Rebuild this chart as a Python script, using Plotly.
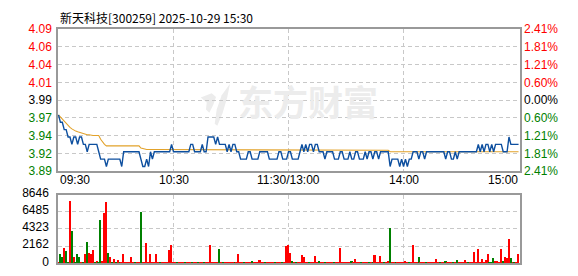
import plotly.graph_objects as go

# ---- data ----------------------------------------------------------------
title_text = "新天科技[300259] 2025-10-29 15:30"
prev_close = 3.99
pct_limit = 2.41
price_tick_labels = ["4.09", "4.06", "4.04", "4.01", "3.99", "3.97", "3.94", "3.92", "3.89"]
pct_tick_labels = ["2.41%", "1.81%", "1.21%", "0.60%", "0.00%", "0.60%", "1.21%", "1.81%", "2.41%"]
time_labels = ["09:30", "10:30", "11:30/13:00", "14:00", "15:00"]
time_label_minutes = [0, 60, 120, 180, 240]
vol_max = 8646
vol_tick_labels = ["8646", "6485", "4323", "2162", "0"]

price = [
    3.97, 3.96, 3.96, 3.95, 3.95, 3.94, 3.94, 3.93, 3.94, 3.94,
    3.93, 3.94, 3.94, 3.93, 3.93, 3.92, 3.93, 3.93, 3.93, 3.93,
    3.93, 3.92, 3.91, 3.91, 3.91, 3.90, 3.91, 3.91, 3.91, 3.91,
    3.91, 3.91, 3.91, 3.90, 3.92, 3.92, 3.92, 3.92, 3.92, 3.92,
    3.92, 3.92, 3.92, 3.91, 3.90, 3.90, 3.91, 3.90, 3.92, 3.91,
    3.92, 3.92, 3.92, 3.92, 3.92, 3.92, 3.92, 3.92, 3.92, 3.93,
    3.92, 3.92, 3.92, 3.92, 3.92, 3.92, 3.92, 3.92, 3.92, 3.93,
    3.93, 3.92, 3.92, 3.92, 3.92, 3.93, 3.92, 3.92, 3.94, 3.94,
    3.94, 3.94, 3.93, 3.94, 3.93, 3.93, 3.93, 3.93, 3.92, 3.93,
    3.92, 3.93, 3.93, 3.92, 3.92, 3.91, 3.91, 3.91, 3.91, 3.92,
    3.92, 3.91, 3.91, 3.91, 3.91, 3.92, 3.92, 3.92, 3.92, 3.92,
    3.91, 3.91, 3.91, 3.91, 3.91, 3.92, 3.92, 3.91, 3.91, 3.91,
    3.92, 3.92, 3.91, 3.91, 3.91, 3.91, 3.92, 3.93, 3.92, 3.93,
    3.92, 3.93, 3.93, 3.92, 3.93, 3.93, 3.92, 3.92, 3.92, 3.91,
    3.92, 3.92, 3.92, 3.92, 3.91, 3.91, 3.91, 3.92, 3.92, 3.91,
    3.91, 3.91, 3.92, 3.91, 3.91, 3.92, 3.92, 3.91, 3.91, 3.91,
    3.92, 3.91, 3.92, 3.92, 3.91, 3.92, 3.92, 3.91, 3.92, 3.92,
    3.92, 3.92, 3.92, 3.90, 3.91, 3.91, 3.91, 3.91, 3.90, 3.91,
    3.90, 3.91, 3.90, 3.91, 3.91, 3.92, 3.92, 3.92, 3.91, 3.92,
    3.92, 3.91, 3.92, 3.92, 3.92, 3.92, 3.92, 3.92, 3.92, 3.92,
    3.92, 3.92, 3.91, 3.92, 3.92, 3.91, 3.91, 3.92, 3.91, 3.92,
    3.92, 3.92, 3.92, 3.92, 3.92, 3.92, 3.92, 3.92, 3.92, 3.93,
    3.92, 3.93, 3.92, 3.93, 3.93, 3.92, 3.93, 3.92, 3.93, 3.93,
    3.93, 3.93, 3.92, 3.92, 3.92, 3.94, 3.93, 3.93, 3.93, 3.93,
    3.93,
]

avg_price = [
    3.970, 3.967, 3.964, 3.962, 3.958, 3.955, 3.953, 3.951, 3.949, 3.948,
    3.947, 3.946, 3.946, 3.945, 3.944, 3.943, 3.943, 3.942, 3.942, 3.942,
    3.942, 3.942, 3.937, 3.933, 3.930, 3.928, 3.928, 3.928, 3.928, 3.928,
    3.928, 3.928, 3.928, 3.928, 3.928, 3.928, 3.928, 3.928, 3.928, 3.928,
    3.928, 3.928, 3.928, 3.925, 3.924, 3.924, 3.923, 3.923, 3.923, 3.923,
    3.923, 3.923, 3.923, 3.923, 3.923, 3.923, 3.923, 3.923, 3.923, 3.923,
    3.923, 3.923, 3.923, 3.923, 3.923, 3.923, 3.923, 3.923, 3.923, 3.923,
    3.923, 3.923, 3.923, 3.923, 3.923, 3.923, 3.923, 3.923, 3.923, 3.923,
    3.923, 3.923, 3.923, 3.923, 3.923, 3.923, 3.923, 3.923, 3.923, 3.923,
    3.923, 3.923, 3.923, 3.923, 3.923, 3.923, 3.923, 3.923, 3.923, 3.923,
    3.923, 3.923, 3.923, 3.923, 3.923, 3.923, 3.923, 3.923, 3.923, 3.923,
    3.923, 3.923, 3.923, 3.923, 3.923, 3.923, 3.923, 3.923, 3.923, 3.923,
    3.923, 3.923, 3.923, 3.923, 3.923, 3.923, 3.923, 3.923, 3.923, 3.923,
    3.923, 3.923, 3.923, 3.923, 3.923, 3.923, 3.923, 3.923, 3.923, 3.923,
    3.922, 3.922, 3.922, 3.922, 3.922, 3.922, 3.922, 3.922, 3.922, 3.922,
    3.922, 3.922, 3.922, 3.922, 3.922, 3.922, 3.922, 3.922, 3.922, 3.922,
    3.922, 3.922, 3.922, 3.922, 3.922, 3.922, 3.922, 3.922, 3.922, 3.922,
    3.922, 3.922, 3.922, 3.920, 3.920, 3.920, 3.920, 3.920, 3.920, 3.920,
    3.920, 3.920, 3.920, 3.920, 3.920, 3.920, 3.920, 3.920, 3.920, 3.920,
    3.920, 3.920, 3.920, 3.920, 3.920, 3.920, 3.920, 3.920, 3.920, 3.920,
    3.920, 3.920, 3.920, 3.920, 3.920, 3.920, 3.920, 3.920, 3.920, 3.920,
    3.920, 3.920, 3.920, 3.920, 3.920, 3.920, 3.920, 3.920, 3.920, 3.920,
    3.920, 3.920, 3.920, 3.920, 3.920, 3.920, 3.920, 3.920, 3.920, 3.920,
    3.920, 3.920, 3.920, 3.920, 3.920, 3.920, 3.920, 3.920, 3.920, 3.920,
    3.920,
]

volume = [
    120, 1170, 860, 1990, 1640, 200, 7950, 4090, 820, 100,
    1170, 820, 100, 100, 1170, 2690, 1400, 1290, 1750, 100,
    350, 120, 5490, 350, 6430, 7710, 1400, 820, 100, 580,
    100, 470, 230, 120, 1170, 100, 100, 100, 820, 100,
    100, 100, 120, 6540, 100, 100, 2570, 100, 1290, 100,
    100, 1290, 100, 100, 100, 100, 100, 100, 1750, 2340,
    100, 100, 100, 100, 100, 100, 100, 100, 100, 100,
    100, 100, 100, 100, 100, 100, 230, 100, 100, 2340,
    100, 100, 100, 100, 1870, 100, 100, 100, 100, 100,
    100, 100, 100, 100, 1170, 100, 100, 100, 100, 100,
    100, 350, 100, 100, 100, 470, 100, 100, 100, 100,
    100, 100, 100, 100, 100, 100, 100, 230, 100, 2220,
    2340, 1400, 350, 100, 100, 100, 100, 1050, 820, 100,
    100, 100, 100, 100, 935, 100, 350, 100, 100, 100,
    100, 100, 230, 100, 100, 100, 100, 1990, 100, 100,
    230, 100, 100, 350, 100, 580, 100, 100, 100, 100,
    230, 100, 100, 100, 230, 1050, 100, 100, 935, 100,
    100, 100, 350, 4440, 100, 100, 100, 100, 100, 100,
    100, 350, 100, 100, 100, 2410, 100, 100, 820, 100,
    100, 100, 100, 100, 100, 100, 100, 580, 100, 100,
    100, 100, 350, 230, 100, 100, 100, 100, 470, 230,
    100, 100, 470, 100, 100, 100, 100, 1520, 100, 1870,
    100, 580, 100, 470, 1290, 230, 230, 700, 350, 350,
    100, 1870, 350, 820, 700, 3150, 700, 100, 100, 100,
    1170,
]

# minutes whose bar is a selling (down) bar
falling_minutes = [
    1, 2, 4, 5, 7, 9, 10, 11, 13, 15, 19, 21, 22, 26, 28, 30, 32, 40, 43, 53,
    62, 66, 70, 73, 76, 84, 86, 92, 97, 101, 108, 113, 117, 122, 124, 131, 136,
    139, 144, 153, 158, 162, 164, 170, 173, 176, 183, 188, 192, 199, 202, 206,
    208, 214, 225, 226, 227, 232, 236, 238,
]

# ---- styling -------------------------------------------------------------
RED = "#ff0000"
GREEN = "#008000"
BLACK = "#000000"
FRAME = "#999999"
GRID = "#c8c8c8"
NUM_FONT = "Arial, Liberation Sans, sans-serif"
CJK_FONT = "Noto Sans CJK SC, sans-serif"

W, H = 578, 276
ML, MR = 58, 58
PLOT_W = W - ML - MR


def paper_x(px):
    return (px - ML) / PLOT_W


def paper_y(py):
    return (H - py) / H


def level_color(text, ref):
    v = float(text)
    if v > ref + 1e-9:
        return RED
    if v < ref - 1e-9:
        return GREEN
    return BLACK


minutes = list(range(len(price)))
half_span = prev_close * pct_limit / 100.0
n_steps = len(price_tick_labels) - 1
price_tick_vals = [prev_close + half_span * (1 - 2 * i / n_steps) for i in range(len(price_tick_labels))]
price_range = [prev_close - half_span, prev_close + half_span]

left_text = [
    f'<span style="color:{level_color(t, prev_close)}">{t}</span>' for t in price_tick_labels
]
right_text = [
    f'<span style="color:{level_color(p, prev_close)}">{q}</span>'
    for p, q in zip(price_tick_labels, pct_tick_labels)
]

vol_tick_vals = [vol_max * (1 - i / (len(vol_tick_labels) - 1)) for i in range(len(vol_tick_labels))]
falling = set(falling_minutes)
bar_colors = [GREEN if m in falling else RED for m in minutes]

x_range = [-0.25, len(price) - 1 + 0.75]

fig = go.Figure()

fig.add_trace(go.Bar(
    x=minutes, y=volume, xaxis="x2", yaxis="y3",
    marker=dict(color=bar_colors, line=dict(width=0)),
    width=0.85,
))
fig.add_trace(go.Scatter(
    x=minutes, y=avg_price, xaxis="x", yaxis="y",
    mode="lines", line=dict(color="#e2a22a", width=1.1),
))
fig.add_trace(go.Scatter(
    x=minutes, y=price, xaxis="x", yaxis="y",
    mode="lines", line=dict(color="#0d4f9f", width=1.4),
))
# carrier for the percentage axis on the right
fig.add_trace(go.Scatter(
    x=[minutes[0]], y=[prev_close], xaxis="x", yaxis="y2",
    mode="markers", marker=dict(opacity=0), hoverinfo="skip",
))

price_dom = [paper_y(172), paper_y(21.5)]
vol_dom = [paper_y(270), paper_y(197)]

grid_x = time_label_minutes[1:-1]
common_x = dict(
    range=x_range, tickvals=grid_x, showticklabels=False, ticks="",
    showgrid=True, gridcolor=GRID, griddash="4px,3px", gridwidth=1,
    zeroline=False, showline=True, linecolor=FRAME, linewidth=1.5, mirror=True,
    fixedrange=True,
)

fig.update_layout(
    width=W, height=H,
    margin=dict(l=ML, r=MR, t=0, b=0, pad=0),
    paper_bgcolor="white", plot_bgcolor="white",
    showlegend=False, hovermode=False, bargap=0,
    xaxis=dict(domain=[0, 1], anchor="y", **common_x),
    xaxis2=dict(domain=[0, 1], anchor="y3", **common_x),
    yaxis=dict(
        domain=price_dom, anchor="x", range=price_range,
        tickvals=price_tick_vals, ticktext=left_text, ticks="",
        tickfont=dict(family=NUM_FONT, size=12),
        ticklabelstandoff=2,
        showgrid=True, gridcolor=GRID, griddash="4px,3px", gridwidth=1,
        zeroline=False, showline=True, linecolor=FRAME, linewidth=1.5, mirror=True,
    ),
    yaxis2=dict(
        overlaying="y", side="right", anchor="x", range=price_range,
        tickvals=price_tick_vals, ticktext=right_text, ticks="",
        tickfont=dict(family=NUM_FONT, size=12),
        ticklabelstandoff=3,
        showgrid=False, zeroline=False, showline=False,
    ),
    yaxis3=dict(
        domain=vol_dom, anchor="x2", range=[0, vol_max],
        tickvals=vol_tick_vals, ticktext=vol_tick_labels, ticks="",
        tickfont=dict(family=NUM_FONT, size=12, color=BLACK),
        ticklabelstandoff=5, ticklabelshift=-2,
        showgrid=True, gridcolor=GRID, griddash="4px,3px", gridwidth=1,
        zeroline=False, showline=True, linecolor=FRAME, linewidth=1.5, mirror=True,
    ),
)

annotations = [
    dict(text=title_text, xref="paper", yref="paper", x=paper_x(58), y=paper_y(9.5),
         xanchor="left", yanchor="middle", showarrow=False,
         font=dict(family=CJK_FONT, size=12, color=BLACK)),
    dict(text="<b>东方财富</b>", xref="paper", yref="paper", x=paper_x(308), y=paper_y(97.5),
         xanchor="center", yanchor="middle", showarrow=False,
         font=dict(family=CJK_FONT, size=35, color="#ececec")),
]
for i, (lab, m) in enumerate(zip(time_labels, time_label_minutes)):
    anchor = "left" if i == 0 else ("right" if i == len(time_labels) - 1 else "center")
    xpos = x_range[0] if i == 0 else (x_range[1] if i == len(time_labels) - 1 else m)
    annotations.append(dict(
        text=lab, xref="x", yref="paper", x=xpos, y=paper_y(182),
        xanchor=anchor, yanchor="middle", showarrow=False,
        font=dict(family=NUM_FONT, size=12, color=BLACK),
    ))
fig.update_layout(annotations=annotations)


# watermark emblem drawn beneath the data
def emblem_path(points):
    pts = [f"{paper_x(x):.4f},{paper_y(y):.4f}" for x, y in points]
    return "M " + " L ".join(pts) + " Z"


emblem_a = [(230, 79.3), (227.3, 93.3), (222.7, 110), (217.3, 124), (214.7, 121.7),
            (216.7, 106.7), (221.7, 91.7)]
emblem_b = [(200.7, 94), (211.7, 89.3), (216, 93.3), (213.3, 101.7), (209.3, 110),
            (206, 106.7), (206.7, 99.3)]
for pts in (emblem_a, emblem_b):
    fig.add_shape(type="path", path=emblem_path(pts), xref="paper", yref="paper",
                  fillcolor="#ececec", line=dict(width=0), layer="below")

fig.write_html("out.html", config={"displayModeBar": False})
